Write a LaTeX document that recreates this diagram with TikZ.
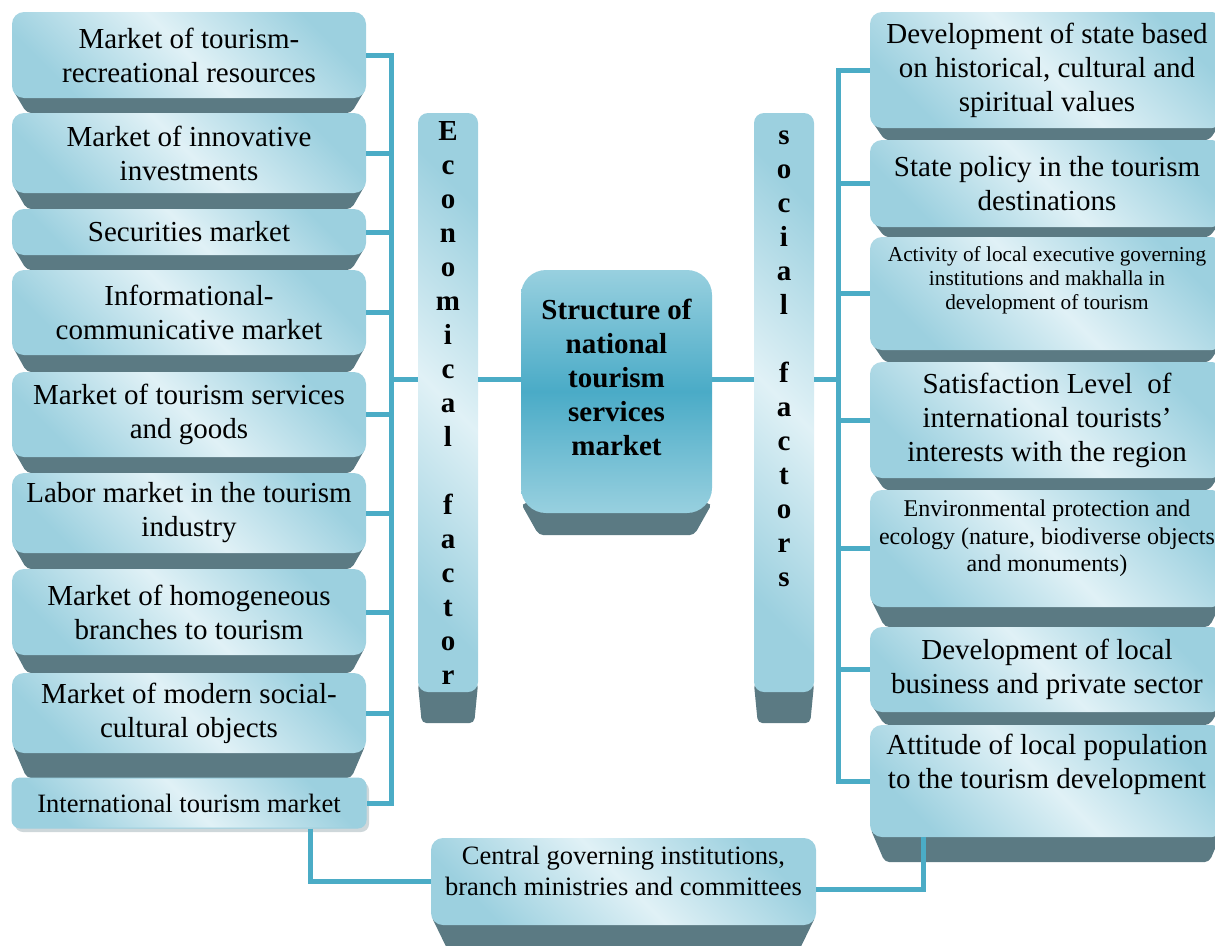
\documentclass[tikz,border=0pt]{standalone}
\usepackage{fontspec}
\setmainfont{Liberation Serif}
\usetikzlibrary{shadows,backgrounds}

\definecolor{facedk}{RGB}{156,208,223}
\definecolor{facelt}{RGB}{224,241,246}
\definecolor{slabgray}{RGB}{91,122,131}
\definecolor{wireblue}{RGB}{75,172,198}
\definecolor{coredk}{RGB}{74,171,199}
\definecolor{corelt}{RGB}{152,208,223}

% text raised inside its box, box size kept
\newcommand{\liftup}[2]{\raisebox{#1}[\height][\depth]{\begin{tabular}{@{}c@{}}#2\end{tabular}}}
% dark bevelled underside of a box: node, depth, inset
\newcommand{\slabbelow}[3]{%
  \fill[slabgray,rounded corners=5pt]
    ([yshift=10pt]#1.south west) -- ([xshift=#3pt,yshift=-#2pt]#1.south west)
    -- ([xshift=-#3pt,yshift=-#2pt]#1.south east) -- ([yshift=10pt]#1.south east) -- cycle;}

\tikzset{
  facebox/.style={rounded corners=12pt, minimum width=354pt, align=center, inner sep=2pt,
    top color=facedk, bottom color=facedk, middle color=facelt, shading angle=-45,
    font=\fontsize{29}{34}\selectfont},
  bar/.style={facebox, rounded corners=10pt, minimum width=60pt, minimum height=579pt,
    font=\bfseries\fontsize{29}{34}\selectfont},
  corebox/.style={rounded corners=25pt, minimum width=191pt, minimum height=243pt,
    top color=corelt, bottom color=corelt, middle color=coredk,
    font=\bfseries\fontsize{29}{34}\selectfont},
  wire/.style={wireblue, line width=5pt}
}

\begin{document}
\begin{tikzpicture}[x=1pt, y=-1pt]
  \useasboundingbox (0,0) rectangle (1215,945);

  % economical side
  \node[facebox, minimum height=86pt] (m1) at (189,55) {Market of tourism-\\recreational resources};
  \node[facebox, minimum height=80pt] (m2) at (189,153) {Market of innovative\\investments};
  \node[facebox, minimum height=46pt] (m3) at (189,232) {Securities market};
  \node[facebox, minimum height=85pt] (m4) at (189,312.5) {Informational-\\communicative market};
  \node[facebox, minimum height=85pt] (m5) at (189,414.5) {Market of tourism services\\and goods};
  \node[facebox, minimum height=80pt] (m6) at (189,513) {Labor market in the tourism\\industry};
  \node[facebox, minimum height=86pt] (m7) at (189,612) {Market of homogeneous\\branches to tourism};
  \node[facebox, minimum height=80pt] (m8) at (189,713) {Market of modern social-\\cultural objects};
  \node[facebox, minimum height=50pt, rounded corners=8pt, draw=facedk, line width=1pt,
        font=\fontsize{26.5}{30}\selectfont,
        drop shadow={shadow xshift=3pt, shadow yshift=-4pt, fill=slabgray!60}]
        (m9) at (189,803) {International tourism market};

  \node[bar] (econ) at (448,402.5) {E\\c\\o\\n\\o\\m\\i\\c\\a\\l\\[34pt]f\\a\\c\\t\\o\\r};
  \node[corebox] (core) at (616.5,391.5) {\liftup{11pt}{Structure of\\national\\tourism\\services\\market}};
  \node[bar] (soc) at (784,402.5) {\liftup{44pt}{s\\o\\c\\i\\a\\l\\[34pt]f\\a\\c\\t\\o\\r\\s}};

  % social side
  \node[facebox, minimum height=116pt] (s1) at (1047,70) {Development of state based\\on historical, cultural and\\spiritual values};
  \node[facebox, minimum height=87pt] (s2) at (1047,183.5) {State policy in the tourism\\destinations};
  \node[facebox, minimum height=113pt, font=\fontsize{21.3}{24}\selectfont] (s3) at (1047,293.5)
        {\liftup{13pt}{Activity of local executive governing\\institutions and makhalla in\\development of tourism}};
  \node[facebox, minimum height=116pt] (s4) at (1047,420) {Satisfaction Level~ of\\international tourists’\\interests with the region};
  \node[facebox, minimum height=117pt, font=\fontsize{24}{27.6}\selectfont] (s5) at (1047,548.5)
        {\liftup{10pt}{Environmental protection and\\ecology (nature, biodiverse objects\\and monuments)}};
  \node[facebox, minimum height=85pt] (s6) at (1047,669.5) {Development of local\\business and private sector};
  \node[facebox, minimum height=112pt] (s7) at (1047,781) {\liftup{16pt}{Attitude of local population\\to the tourism development}};

  \node[facebox, minimum width=385pt, minimum height=87pt, font=\fontsize{26.5}{31}\selectfont]
        (gov) at (623.5,881.5) {\liftup{8pt}{Central governing institutions,\\branch ministries and committees}};

  \begin{pgfonlayer}{background}
    \foreach \n/\d/\s in {m1/15/15, m2/16/15, m3/15/15, m4/17/15, m5/16/15, m6/16/15, m7/18/15, m8/25/15,
                          s1/12/15, s2/10/15, s3/12/15, s4/12/15, s5/20/15, s6/13/15, s7/25/15,
                          econ/31/4, soc/31/4, core/22/18, gov/25/17}
      {\slabbelow{\n}{\d}{\s}}
  \end{pgfonlayer}

  \coordinate (trunkL) at (391,0);
  \coordinate (trunkR) at (838,0);
  \coordinate (axis) at (0,379);

  \draw[wire] (m1.east) -- (m1.east -| trunkL) -- (m9.east -| trunkL) -- (m9.east);
  \foreach \i in {2,...,8}
    \draw[wire] (m\i.east) -- (m\i.east -| trunkL);
  \draw[wire] (s1.west) -- (s1.west -| trunkR) -- (s7.west -| trunkR) -- (s7.west);
  \foreach \i in {2,...,6}
    \draw[wire] (s\i.west) -- (s\i.west -| trunkR);

  \draw[wire] (trunkL |- axis) -- (econ.west |- axis);
  \draw[wire] (econ.east |- axis) -- (core.west |- axis);
  \draw[wire] (core.east |- axis) -- (soc.west |- axis);
  \draw[wire] (soc.east |- axis) -- (trunkR |- axis);

  \draw[wire] ([xshift=121pt]m9.south) |- (gov.west);
  \draw[wire] ([yshift=-7.5pt]gov.east) -| ([xshift=-124pt]s7.south);
\end{tikzpicture}
\end{document}
